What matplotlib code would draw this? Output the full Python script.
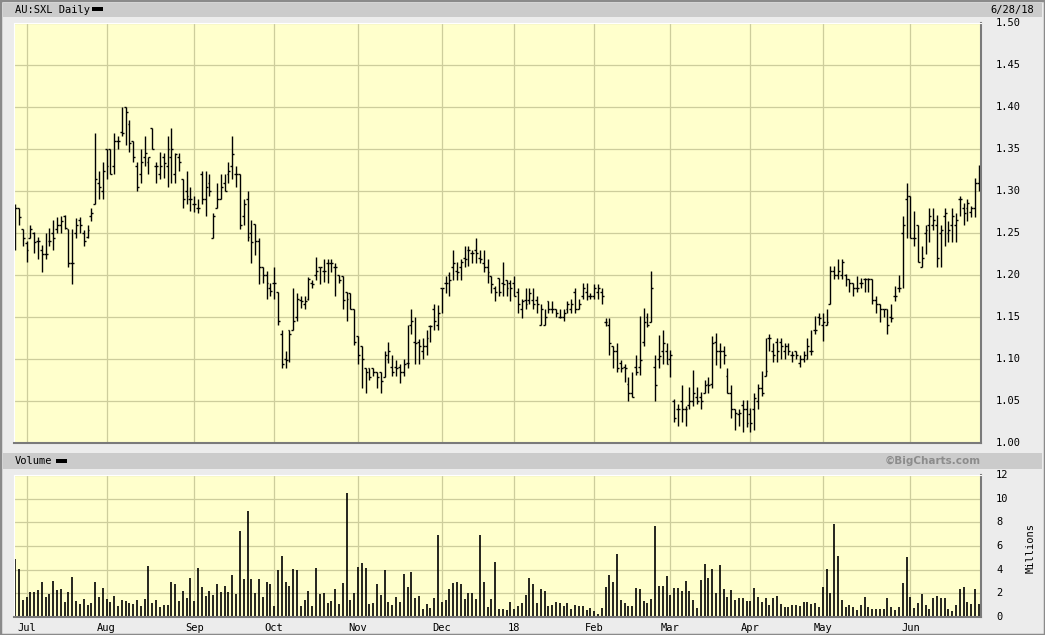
import matplotlib
matplotlib.use("Agg")
import matplotlib.pyplot as plt
from matplotlib.patches import Rectangle
import numpy as np
import pandas as pd

# ASX trading days 28 Jun 2017 - 28 Jun 2018
holidays = ['2017-12-25', '2017-12-26', '2018-01-01', '2018-01-26',
            '2018-03-30', '2018-04-02', '2018-04-25', '2018-06-11']
dates = pd.bdate_range('2017-06-28', '2018-06-28')
dates = dates[~dates.isin(pd.to_datetime(holidays))]

opens = [1.249, 1.280, 1.255, 1.238, 1.244, 1.250, 1.240, 1.230, 1.225, 1.240,
         1.250, 1.255, 1.260, 1.270, 1.255, 1.214, 1.250, 1.265, 1.250, 1.245,
         1.270, 1.284, 1.310, 1.300, 1.350, 1.350, 1.330, 1.360, 1.370, 1.400,
         1.380, 1.360, 1.330, 1.320, 1.340, 1.335, 1.375, 1.330, 1.320, 1.340,
         1.330, 1.340, 1.320, 1.340, 1.314, 1.300, 1.290, 1.285, 1.280, 1.320,
         1.290, 1.310, 1.244, 1.280, 1.290, 1.310, 1.320, 1.330, 1.320, 1.320,
         1.270, 1.290, 1.250, 1.261, 1.240, 1.210, 1.200, 1.185, 1.190, 1.180,
         1.130, 1.100, 1.135, 1.135, 1.150, 1.170, 1.165, 1.171, 1.190, 1.200,
         1.209, 1.205, 1.214, 1.214, 1.210, 1.200, 1.199, 1.180, 1.179, 1.159,
         1.127, 1.115, 1.089, 1.089, 1.089, 1.084, 1.084, 1.079, 1.100, 1.090,
         1.090, 1.090, 1.085, 1.095, 1.140, 1.120, 1.120, 1.110, 1.115, 1.139,
         1.160, 1.140, 1.184, 1.190, 1.200, 1.210, 1.205, 1.210, 1.220, 1.230,
         1.226, 1.230, 1.220, 1.214, 1.210, 1.199, 1.185, 1.196, 1.190, 1.194,
         1.190, 1.190, 1.180, 1.160, 1.170, 1.170, 1.170, 1.170, 1.140, 1.140,
         1.169, 1.160, 1.159, 1.150, 1.150, 1.160, 1.160, 1.180, 1.160, 1.175,
         1.180, 1.175, 1.175, 1.180, 1.180, 1.144, 1.140, 1.115, 1.110, 1.095,
         1.090, 1.070, 1.060, 1.090, 1.090, 1.120, 1.150, 1.144, 1.090, 1.100,
         1.110, 1.110, 1.100, 1.050, 1.040, 1.050, 1.040, 1.045, 1.050, 1.055,
         1.055, 1.060, 1.070, 1.070, 1.120, 1.110, 1.110, 1.080, 1.060, 1.040,
         1.035, 1.045, 1.040, 1.035, 1.040, 1.050, 1.065, 1.080, 1.125, 1.110,
         1.120, 1.120, 1.110, 1.115, 1.105, 1.110, 1.095, 1.100, 1.100, 1.110,
         1.135, 1.150, 1.140, 1.140, 1.165, 1.205, 1.200, 1.200, 1.200, 1.195,
         1.190, 1.185, 1.190, 1.195, 1.195, 1.195, 1.170, 1.165, 1.160, 1.160,
         1.150, 1.175, 1.185, 1.250, 1.290, 1.294, 1.244, 1.260, 1.210, 1.250,
         1.260, 1.260, 1.260, 1.250, 1.270, 1.250, 1.260, 1.260, 1.290, 1.280,
         1.280, 1.275, 1.280, 1.310]

highs = [1.284, 1.280, 1.255, 1.240, 1.260, 1.251, 1.245, 1.236, 1.250, 1.256,
         1.266, 1.269, 1.270, 1.272, 1.255, 1.255, 1.268, 1.269, 1.254, 1.260,
         1.280, 1.369, 1.324, 1.335, 1.350, 1.350, 1.369, 1.365, 1.400, 1.400,
         1.385, 1.360, 1.335, 1.350, 1.365, 1.340, 1.375, 1.335, 1.347, 1.345,
         1.365, 1.375, 1.345, 1.345, 1.314, 1.324, 1.305, 1.294, 1.290, 1.324,
         1.324, 1.320, 1.274, 1.310, 1.320, 1.320, 1.335, 1.365, 1.330, 1.320,
         1.290, 1.300, 1.265, 1.261, 1.244, 1.210, 1.205, 1.190, 1.210, 1.180,
         1.135, 1.110, 1.135, 1.184, 1.179, 1.175, 1.175, 1.198, 1.194, 1.221,
         1.210, 1.219, 1.219, 1.219, 1.214, 1.200, 1.199, 1.180, 1.179, 1.159,
         1.127, 1.115, 1.089, 1.089, 1.089, 1.084, 1.084, 1.109, 1.120, 1.105,
         1.099, 1.094, 1.100, 1.140, 1.159, 1.150, 1.124, 1.125, 1.135, 1.140,
         1.165, 1.164, 1.184, 1.199, 1.204, 1.230, 1.216, 1.219, 1.235, 1.235,
         1.230, 1.244, 1.230, 1.230, 1.219, 1.199, 1.187, 1.196, 1.215, 1.194,
         1.194, 1.199, 1.184, 1.171, 1.184, 1.184, 1.184, 1.175, 1.165, 1.159,
         1.169, 1.169, 1.159, 1.159, 1.159, 1.169, 1.171, 1.184, 1.171, 1.190,
         1.190, 1.179, 1.189, 1.189, 1.184, 1.149, 1.149, 1.115, 1.119, 1.099,
         1.094, 1.079, 1.084, 1.105, 1.151, 1.161, 1.155, 1.205, 1.105, 1.129,
         1.135, 1.119, 1.111, 1.052, 1.046, 1.069, 1.044, 1.067, 1.087, 1.067,
         1.061, 1.075, 1.079, 1.127, 1.131, 1.119, 1.115, 1.089, 1.069, 1.040,
         1.040, 1.051, 1.051, 1.042, 1.060, 1.070, 1.086, 1.125, 1.130, 1.119,
         1.125, 1.125, 1.119, 1.119, 1.109, 1.110, 1.105, 1.109, 1.125, 1.135,
         1.151, 1.155, 1.155, 1.160, 1.211, 1.211, 1.219, 1.219, 1.201, 1.195,
         1.190, 1.199, 1.197, 1.197, 1.197, 1.195, 1.175, 1.165, 1.160, 1.160,
         1.165, 1.187, 1.200, 1.270, 1.310, 1.294, 1.276, 1.260, 1.234, 1.260,
         1.280, 1.280, 1.272, 1.260, 1.280, 1.264, 1.280, 1.274, 1.294, 1.286,
         1.290, 1.282, 1.315, 1.331]

lows = [1.230, 1.259, 1.234, 1.216, 1.244, 1.226, 1.219, 1.204, 1.219, 1.234,
        1.230, 1.250, 1.250, 1.255, 1.210, 1.189, 1.244, 1.250, 1.234, 1.244,
        1.264, 1.284, 1.290, 1.290, 1.314, 1.320, 1.320, 1.350, 1.365, 1.355,
        1.347, 1.335, 1.300, 1.310, 1.330, 1.320, 1.350, 1.310, 1.314, 1.315,
        1.305, 1.310, 1.310, 1.324, 1.280, 1.284, 1.276, 1.275, 1.274, 1.284,
        1.270, 1.294, 1.244, 1.280, 1.290, 1.300, 1.310, 1.314, 1.305, 1.255,
        1.260, 1.240, 1.214, 1.224, 1.189, 1.190, 1.171, 1.175, 1.171, 1.140,
        1.089, 1.089, 1.096, 1.135, 1.145, 1.161, 1.159, 1.170, 1.184, 1.194,
        1.189, 1.192, 1.190, 1.204, 1.175, 1.190, 1.159, 1.145, 1.159, 1.117,
        1.094, 1.065, 1.059, 1.075, 1.080, 1.065, 1.059, 1.079, 1.095, 1.080,
        1.080, 1.071, 1.080, 1.089, 1.130, 1.094, 1.094, 1.100, 1.105, 1.120,
        1.135, 1.135, 1.155, 1.179, 1.175, 1.194, 1.194, 1.194, 1.210, 1.211,
        1.214, 1.214, 1.214, 1.204, 1.190, 1.179, 1.169, 1.175, 1.175, 1.175,
        1.169, 1.175, 1.155, 1.149, 1.159, 1.165, 1.159, 1.155, 1.140, 1.140,
        1.155, 1.155, 1.150, 1.149, 1.145, 1.155, 1.155, 1.155, 1.159, 1.171,
        1.170, 1.171, 1.171, 1.171, 1.165, 1.139, 1.105, 1.089, 1.084, 1.084,
        1.073, 1.050, 1.055, 1.081, 1.081, 1.115, 1.138, 1.144, 1.050, 1.089,
        1.094, 1.094, 1.079, 1.025, 1.020, 1.025, 1.020, 1.040, 1.044, 1.046,
        1.040, 1.059, 1.059, 1.065, 1.093, 1.089, 1.094, 1.059, 1.030, 1.015,
        1.020, 1.013, 1.019, 1.013, 1.016, 1.040, 1.056, 1.080, 1.110, 1.096,
        1.096, 1.100, 1.100, 1.105, 1.096, 1.100, 1.090, 1.096, 1.100, 1.105,
        1.130, 1.140, 1.121, 1.140, 1.165, 1.195, 1.195, 1.195, 1.187, 1.180,
        1.175, 1.180, 1.185, 1.180, 1.180, 1.165, 1.155, 1.144, 1.150, 1.130,
        1.144, 1.169, 1.180, 1.185, 1.244, 1.244, 1.234, 1.215, 1.210, 1.225,
        1.239, 1.254, 1.210, 1.210, 1.234, 1.239, 1.239, 1.239, 1.270, 1.260,
        1.264, 1.269, 1.269, 1.300]

closes = [1.280, 1.269, 1.244, 1.230, 1.255, 1.239, 1.240, 1.225, 1.225, 1.240,
          1.244, 1.259, 1.264, 1.256, 1.214, 1.214, 1.260, 1.260, 1.240, 1.254,
          1.274, 1.314, 1.305, 1.324, 1.330, 1.320, 1.359, 1.359, 1.369, 1.394,
          1.357, 1.340, 1.305, 1.335, 1.345, 1.340, 1.350, 1.330, 1.330, 1.333,
          1.350, 1.350, 1.344, 1.335, 1.290, 1.294, 1.290, 1.285, 1.280, 1.290,
          1.305, 1.300, 1.270, 1.290, 1.305, 1.300, 1.324, 1.344, 1.320, 1.260,
          1.284, 1.245, 1.239, 1.240, 1.210, 1.200, 1.190, 1.181, 1.190, 1.145,
          1.094, 1.099, 1.130, 1.145, 1.171, 1.169, 1.169, 1.195, 1.189, 1.205,
          1.209, 1.205, 1.214, 1.214, 1.210, 1.194, 1.170, 1.171, 1.159, 1.120,
          1.105, 1.100, 1.084, 1.079, 1.084, 1.079, 1.074, 1.105, 1.109, 1.085,
          1.089, 1.085, 1.094, 1.095, 1.145, 1.119, 1.115, 1.115, 1.125, 1.139,
          1.145, 1.155, 1.184, 1.190, 1.194, 1.214, 1.204, 1.216, 1.219, 1.230,
          1.226, 1.226, 1.219, 1.210, 1.204, 1.189, 1.180, 1.180, 1.189, 1.185,
          1.184, 1.175, 1.165, 1.169, 1.165, 1.179, 1.165, 1.165, 1.159, 1.150,
          1.160, 1.159, 1.155, 1.150, 1.155, 1.165, 1.165, 1.159, 1.165, 1.184,
          1.175, 1.175, 1.184, 1.184, 1.175, 1.144, 1.119, 1.110, 1.089, 1.089,
          1.089, 1.059, 1.055, 1.084, 1.099, 1.144, 1.140, 1.184, 1.069, 1.104,
          1.119, 1.094, 1.105, 1.030, 1.040, 1.040, 1.040, 1.050, 1.059, 1.050,
          1.050, 1.069, 1.069, 1.119, 1.109, 1.109, 1.105, 1.060, 1.040, 1.036,
          1.036, 1.040, 1.024, 1.024, 1.054, 1.065, 1.060, 1.086, 1.125, 1.105,
          1.110, 1.115, 1.115, 1.110, 1.105, 1.105, 1.100, 1.105, 1.115, 1.110,
          1.135, 1.149, 1.144, 1.144, 1.205, 1.200, 1.205, 1.215, 1.195, 1.190,
          1.185, 1.185, 1.190, 1.195, 1.195, 1.170, 1.165, 1.160, 1.160, 1.140,
          1.149, 1.175, 1.185, 1.260, 1.294, 1.244, 1.244, 1.215, 1.220, 1.254,
          1.270, 1.265, 1.220, 1.254, 1.274, 1.254, 1.270, 1.265, 1.290, 1.274,
          1.286, 1.280, 1.310, 1.310]

# volume, millions
volume = [4.87, 4.03, 1.41, 1.66, 2.08, 2.08, 2.25, 2.93, 1.66, 1.92,
          3.01, 2.25, 2.34, 1.24, 2.08, 3.35, 1.32, 1.07, 1.49, 0.99,
          1.15, 2.93, 1.66, 2.42, 1.49, 1.24, 1.75, 0.90, 1.41, 1.32,
          1.15, 1.07, 1.41, 0.90, 1.49, 4.28, 1.15, 1.41, 0.82, 0.99,
          0.99, 2.93, 2.76, 1.32, 2.17, 1.58, 3.27, 1.32, 4.11, 2.51,
          1.75, 2.17, 1.83, 2.76, 2.08, 2.59, 2.08, 3.52, 1.92, 7.24,
          3.18, 8.93, 3.18, 2.00, 3.18, 1.66, 2.93, 2.76, 0.90, 3.94,
          5.13, 2.93, 2.59, 4.03, 3.94, 0.90, 1.41, 2.17, 0.90, 4.11,
          1.92, 2.00, 1.15, 1.32, 2.34, 1.07,
          2.85, 10.45, 1.41, 2.00, 4.20, 4.54, 4.11, 1.07, 1.15, 2.76,
          1.83, 3.94, 1.24, 0.99, 1.66, 1.24, 3.61, 2.51, 3.77, 1.58,
          1.75, 0.65, 1.07, 0.73, 1.58, 6.90, 1.24, 1.41, 2.34, 2.85,
          2.93, 2.76, 1.49, 2.00, 2.00, 1.49, 6.90, 2.93, 0.82, 1.49,
          4.62, 0.65, 0.65, 0.56, 1.24, 0.65, 0.90, 1.15, 1.83, 3.27,
          2.76, 1.15, 2.34, 2.17, 0.90, 0.99, 1.24, 1.15, 0.90, 1.15,
          0.65, 0.99, 0.90, 0.90, 0.56, 0.73, 0.48, 0.23, 0.73, 2.51,
          3.52, 2.93, 5.30, 1.41, 1.15, 0.90, 0.90, 2.42, 2.34, 1.32,
          1.15, 1.49, 7.66, 2.59, 2.59,
          3.44, 1.83, 2.42, 2.42, 2.17, 3.01, 2.17, 1.41, 0.73, 3.10,
          4.45, 3.27, 4.03, 2.00, 4.37, 2.34, 1.66, 2.25, 1.41, 1.58,
          1.58, 1.32, 1.32, 2.42, 1.66, 1.24, 1.58, 0.99, 1.58, 1.75,
          1.07, 0.82, 0.82, 0.99, 0.99, 0.90, 1.24, 1.24, 1.07, 1.15,
          0.82, 2.51, 4.03, 2.00, 7.83, 5.13, 1.41, 0.82, 0.99, 0.82,
          0.56, 0.99, 1.66, 0.82, 0.65, 0.65, 0.65, 0.65, 1.58, 0.82,
          0.56, 0.82, 2.85, 5.04, 1.66, 0.73, 1.15, 1.92, 0.99, 0.65,
          1.58, 1.75, 1.58, 1.58, 0.65, 0.48, 0.99, 2.34, 2.51, 1.24,
          1.07, 2.34, 1.07]

price_ticks = [1.00, 1.05, 1.10, 1.15, 1.20, 1.25, 1.30, 1.35, 1.40, 1.45, 1.50]
vol_ticks = [0, 2, 4, 6, 8, 10, 12]

W, H = 1045, 635
BG = '#ececec'
BAR = '#cbcbcb'
PLOT = '#ffffcc'
GRID = '#cdcd9c'
MONO = 'DejaVu Sans Mono'

x = np.arange(len(dates))
month_pos = [i for i in range(1, len(dates)) if dates[i].month != dates[i - 1].month]
month_lab = ['18' if dates[i].month == 1 else dates[i].strftime('%b') for i in month_pos]

fig = plt.figure(figsize=(W / 100, H / 100), dpi=100, facecolor=BG)


def fx(px):
    return px / W


def fy(py):
    return 1 - py / H


# outer frame and header bars
fig.add_artist(Rectangle((0, 0), 1, 1, transform=fig.transFigure,
                         fc='none', ec='#8a8a8a', lw=2.5))
fig.add_artist(Rectangle((fx(3), fy(17)), fx(1039), 14 / H, transform=fig.transFigure,
                         fc=BAR, ec='none'))
fig.add_artist(Rectangle((fx(3), fy(469)), fx(1039), 16 / H, transform=fig.transFigure,
                         fc=BAR, ec='none'))
fig.add_artist(Rectangle((fx(92), fy(11)), fx(11), 4 / H, transform=fig.transFigure,
                         fc='black', ec='none'))
fig.add_artist(Rectangle((fx(56), fy(463)), fx(11), 4 / H, transform=fig.transFigure,
                         fc='black', ec='none'))
fig.text(fx(15), fy(10), 'AU:SXL Daily', family=MONO, fontsize=7.5, va='center', ha='left')
fig.text(fx(1034), fy(10), '6/28/18', family=MONO, fontsize=7.5, va='center', ha='right')
fig.text(fx(15), fy(461), 'Volume', family=MONO, fontsize=7.5, va='center', ha='left')
fig.text(fx(981), fy(461), '\u00a9BigCharts.com', family='DejaVu Sans', fontsize=7.5,
         fontweight='bold', color='#8c8c8c', va='center', ha='right')

# price panel
ax = fig.add_axes([fx(14), fy(443), fx(967), 420 / H])
ax.set_facecolor(PLOT)
ax.vlines(x, lows, highs, color='black', lw=1.0)
ax.hlines(opens, x - 0.5, x, color='black', lw=1.0)
ax.hlines(closes, x, x + 0.5, color='black', lw=1.0)
ax.set_xlim(-0.3, len(dates) - 0.45)
ax.set_ylim(1.0, 1.5)
ax.set_yticks(price_ticks)
ax.set_xticks(month_pos)
ax.grid(True, color=GRID, lw=0.9)
ax.set_axisbelow(True)
ax.tick_params(length=0, labelbottom=False, labelleft=False)
for t in price_ticks:
    fig.text(fx(996), ax.transData.transform((0, t))[1] / H, '%.2f' % t,
             family=MONO, fontsize=7.5, va='center', ha='left')

# volume panel
av = fig.add_axes([fx(14), fy(617), fx(967), 142 / H])
av.set_facecolor(PLOT)
av.vlines(x, 0, volume, color='black', lw=1.2)
av.set_xlim(ax.get_xlim())
av.set_ylim(0, 12)
av.set_yticks(vol_ticks)
av.set_xticks(month_pos)
av.set_xticklabels(month_lab, family=MONO, fontsize=7.5)
av.grid(True, color=GRID, lw=0.9)
av.set_axisbelow(True)
av.tick_params(length=0, labelleft=False, pad=4)
for t in vol_ticks:
    fig.text(fx(996), av.transData.transform((0, t))[1] / H, str(t),
             family=MONO, fontsize=7.5, va='center', ha='left')
fig.text(fx(1031), fy(548), 'Millions', family=MONO, fontsize=7.5,
         rotation=90, va='center', ha='center')

for a in (ax, av):
    a.spines['left'].set_color('#ffffff')
    a.spines['top'].set_color('#ffffff')
    a.spines['right'].set_color('#7a7a7a')
    a.spines['bottom'].set_color('#7a7a7a')
    a.spines['right'].set_linewidth(1.5)
    a.spines['bottom'].set_linewidth(1.5)

fig.savefig('out.png', dpi=100, facecolor=BG)
